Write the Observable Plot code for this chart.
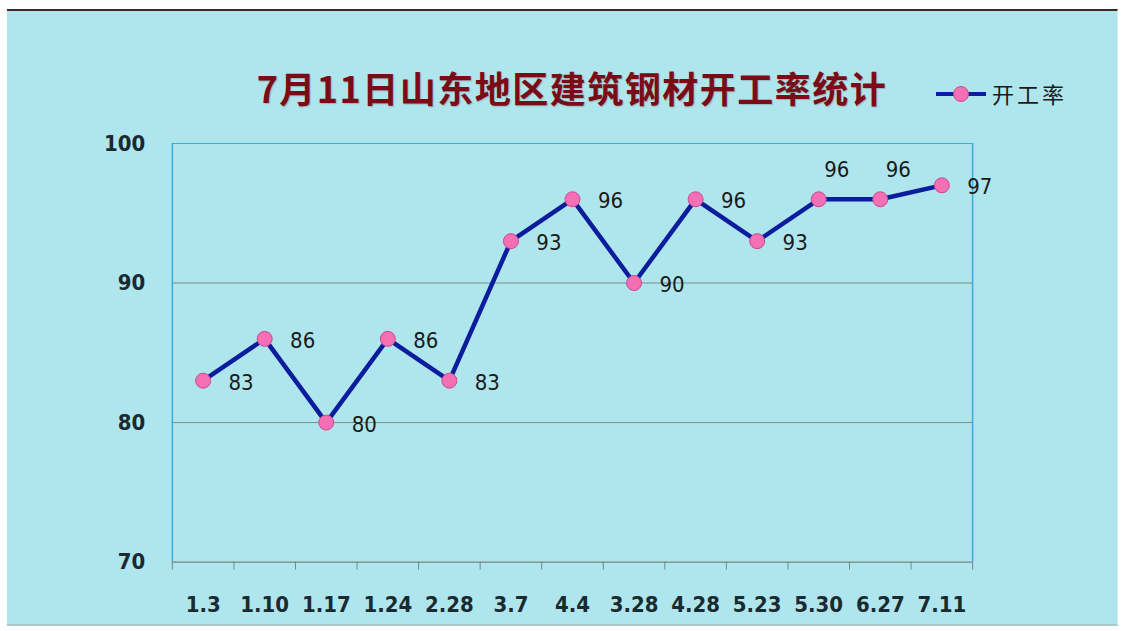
<!DOCTYPE html>
<html>
<head>
<meta charset="utf-8">
<script src="https://cdn.jsdelivr.net/npm/d3@7"></script>
<script src="https://cdn.jsdelivr.net/npm/@observablehq/plot@0.6"></script>
<style>
  html, body { margin: 0; padding: 0; background: #ffffff; }
  #frame {
    position: absolute; left: 7px; top: 9px; width: 1111px; height: 617px;
    background: #afe6ed; border-top: 2px solid #3a2a22; border-right: 1px solid #d0eef2;
    border-bottom: 2px solid #a8c8cc; box-sizing: border-box; overflow: hidden;
  }
  #title {
    position: absolute; left: 0; width: 1130px; top: 50px; text-align: center;
    font-family: "Noto Sans CJK SC", sans-serif; font-weight: bold; font-size: 36px;
    color: #7a0b17; letter-spacing: 1.5px; text-shadow: 1px 1px 1px rgba(90,30,30,0.25);
  }
  #legend { position: absolute; left: 929px; top: 66px; height: 36px; }
  #legend .ln { position: absolute; left: 0; top: 15px; width: 50px; height: 4px; background: #0b1c9c; }
  #legend .pt { position: absolute; left: 17px; top: 9px; width: 16px; height: 16px; border-radius: 50%;
    background: #f46fb4; border: 1px solid #c84890; box-sizing: border-box; }
  #legend .tx { position: absolute; left: 56px; top: 0px; white-space: nowrap; letter-spacing: 3px;
    font-family: "Noto Sans CJK SC", sans-serif; font-size: 22px; color: #1a1a1a; }
  #chart { position: absolute; left: 0; top: 114px; }
</style>
</head>
<body>
<div id="frame">
  <div id="title">7月11日山东地区建筑钢材开工率统计</div>
  <div id="legend"><div class="ln"></div><div class="pt"></div><div class="tx">开工率</div></div>
  <div id="chart"></div>
</div>
<script>
const categories = ["1.3","1.10","1.17","1.24","2.28","3.7","4.4","3.28","4.28","5.23","5.30","6.27","7.11"];
const values = [83, 86, 80, 86, 83, 93, 96, 90, 96, 93, 96, 96, 97];
const yTicks = [70, 80, 90, 100];
const gridValues = [80, 90];
const raisedLabels = ["5.30", "6.27"];

const data = categories.map((c, i) => ({cat: c, idx: i + 0.5, value: values[i]}));
const n = categories.length;
const numFont = "'DejaVu Sans Condensed', 'DejaVu Sans', sans-serif";

const plot = Plot.plot({
  width: 1111,
  height: 500,
  marginLeft: 165,
  marginRight: 145,
  marginTop: 18,
  marginBottom: 63,
  style: {background: "transparent", fontFamily: numFont, color: "#1a1a1a"},
  x: {domain: [0, n], axis: null},
  y: {domain: [70, 100], axis: null},
  marks: [
    Plot.ruleY(gridValues, {stroke: "#7f8a8c", strokeWidth: 1}),
    Plot.ruleY([100], {stroke: "#36aee0", strokeWidth: 1.2}),
    Plot.ruleX([0, n], {y1: 70, y2: 100, stroke: "#36aee0", strokeWidth: 1.5}),
    Plot.ruleY([70], {stroke: "#7a8486", strokeWidth: 1.2}),
    Plot.axisX(d3.range(n + 1), {tickSize: 8, tickFormat: () => "", stroke: "#7a8486", tickPadding: 0, label: null}),
    Plot.axisX(data.map(d => d.idx), {tickSize: 0, tickPadding: 34, tickFormat: v => categories[v - 0.5],
      fontSize: 22, fontWeight: "bold", fill: "#1a2a30", label: null}),
    Plot.axisY(yTicks, {tickSize: 0, tickPadding: 27, fontSize: 22, fontWeight: "bold", fill: "#1a2a30", label: null}),
    Plot.line(data, {x: "idx", y: "value", stroke: "#0b1c9c", strokeWidth: 4.5}),
    Plot.dot(data, {x: "idx", y: "value", r: 7.5, fill: "#f46fb4", stroke: "#c84890", strokeWidth: 1}),
    Plot.text(data.filter(d => !raisedLabels.includes(d.cat)), {x: "idx", y: "value", text: d => String(d.value),
      dx: 38, dy: 2, fontSize: 22, fill: "#1a1a1a"}),
    Plot.text(data.filter(d => raisedLabels.includes(d.cat)), {x: "idx", y: "value", text: d => String(d.value),
      dx: 18, dy: -29, fontSize: 22, fill: "#1a1a1a"})
  ]
});
document.getElementById("chart").appendChild(plot);
</script>
</body>
</html>
